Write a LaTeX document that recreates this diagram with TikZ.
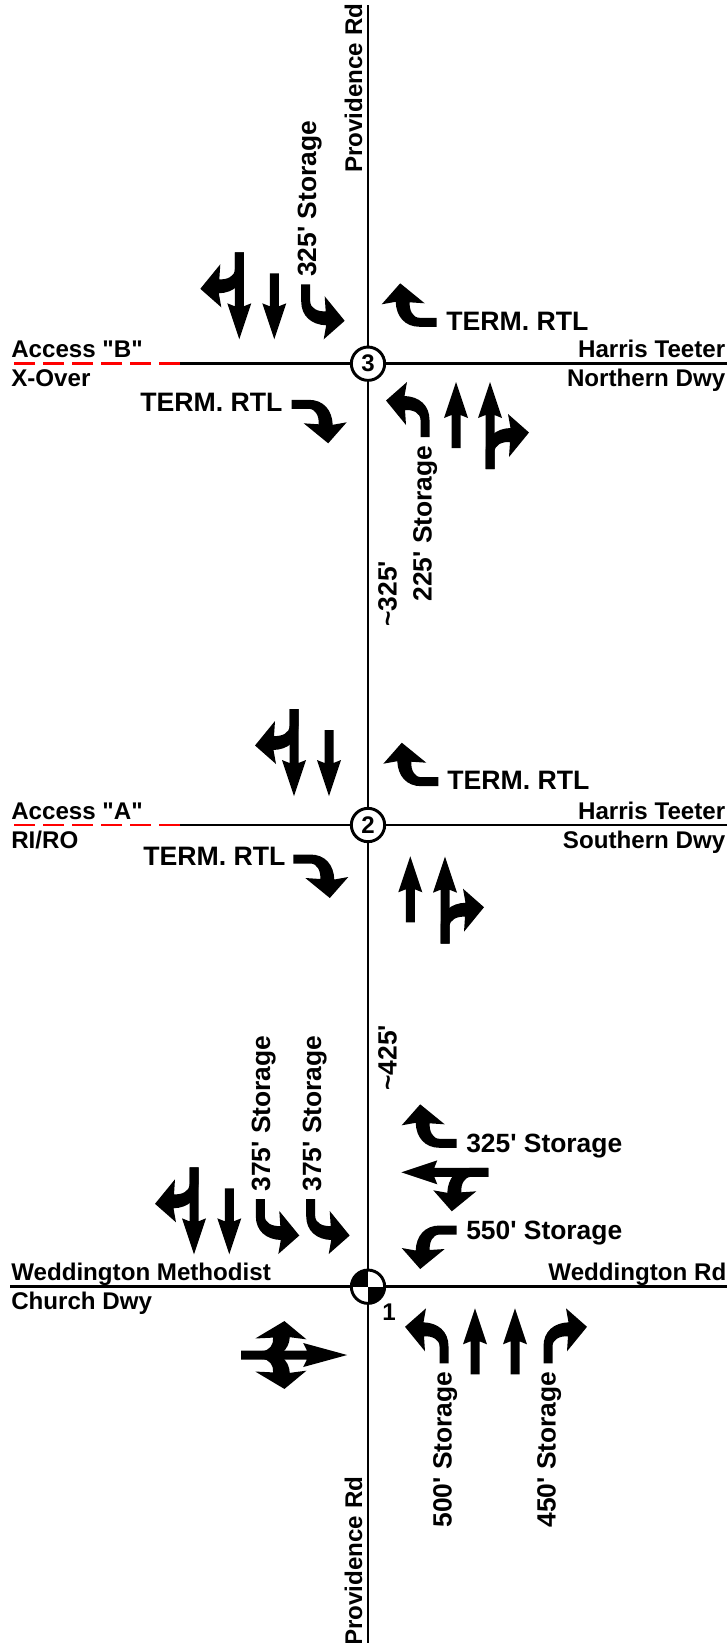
\documentclass[tikz,border=0pt]{standalone}
\usepackage{fontspec}
\setmainfont{Liberation Sans}
\usetikzlibrary{positioning}
\newcommand{\ft}{\textquotesingle}
\newcommand{\dq}{\textquotedbl}
\begin{document}
\begin{tikzpicture}[
  x=0.75pt, y=-0.75pt,
  road/.style={black, line width=2.1pt},
  accessdash/.style={red, line width=2.1pt, dash pattern=on 15.75pt off 6pt},
  junction/.style={circle, draw=black, fill=white, line width=2.2pt, minimum size=25pt, inner sep=0pt,
    font=\bfseries\fontsize{18}{18}\selectfont},
  street/.style={inner sep=0pt, font=\bfseries\fontsize{18.1}{18.1}\selectfont},
  storage/.style={inner sep=0pt, font=\bfseries\fontsize{19.8}{19.8}\selectfont},
  term/.style={inner sep=0pt, font=\bfseries\fontsize{20}{20}\selectfont},
  pics/thruarrow/.style={code={
    \fill (0,-#1) -- (12,{-#1+36}) -- (4.5,{-#1+33}) -- (4.5,0) -- (-4.5,0) -- (-4.5,{-#1+33}) -- (-12,{-#1+36}) -- cycle;
  }},
  pics/turnarrow/.style={code={
    \fill (-4.5,0) -- (-4.5,-17) .. controls (-4.5,-32) and (6,-40.5) .. (20.5,-41) -- (18,-55) -- (39,-36.5)
      -- (19,-12) -- (20,-27) .. controls (12,-27.5) and (4.5,-24) .. (4.5,-17) -- (4.5,0) -- cycle;
  }},
]
\useasboundingbox (0,0) rectangle (728,1643);
% ---- junctions ----
\node[junction] (n3) at (368,363.7) {3};
\node[junction] (n2) at (368,825) {2};
\node[junction, path picture={
    \fill[black] (path picture bounding box.center) rectangle (path picture bounding box.north west);
    \fill[black] (path picture bounding box.center) rectangle (path picture bounding box.south east);
  }] (n1) at (368,1286.7) {};
\coordinate (northEnd) at (368,5);
\coordinate (southEnd) at (368,1643);
\coordinate (accBend) at (10,363.7);
\coordinate (accBsolid) at (180,363.7);
\coordinate (tee3) at (727,363.7);
\coordinate (accAend) at (10,825);
\coordinate (accAsolid) at (180,825);
\coordinate (tee2) at (727,825);
\coordinate (wmc) at (10,1286.7);
\coordinate (wrd) at (727,1286.7);
% ---- roads ----
\draw[road] (northEnd) -- (n3);
\draw[road] (n3) -- (n2);
\draw[road] (n2) -- (n1);
\draw[road] (n1) -- (southEnd);
\draw[road] (accBsolid) -- (n3);
\draw[road] (n3) -- (tee3);
\draw[accessdash] (accBsolid) -- (accBend);
\draw[road] (accAsolid) -- (n2);
\draw[road] (n2) -- (tee2);
\draw[accessdash] (accAsolid) -- (accAend);
\draw[road] (wmc) -- (n1);
\draw[road] (n1) -- (wrd);
% ---- street names ----
\node[street, rotate=90, anchor=base west] (provN) at (362,173) {Providence Rd};
\node[street, rotate=90, anchor=base west] (provS) at (362,1646) {Providence Rd};
\node[street, anchor=base west] (accB) at (11,357.5) {Access \dq B\dq};
\node[street, anchor=base west] (xover) at (11,386.5) {X-Over};
\node[street, anchor=base east] (ht3) at (725.5,357.5) {Harris Teeter};
\node[street, anchor=base east] (ndwy) at (725.5,386.5) {Northern Dwy};
\node[street, anchor=base west] (accA) at (11,819) {Access \dq A\dq};
\node[street, anchor=base west] (riro) at (11,848) {RI/RO};
\node[street, anchor=base east] (ht2) at (725.5,819) {Harris Teeter};
\node[street, anchor=base east] (sdwy) at (725.5,848) {Southern Dwy};
\node[street, anchor=base west] (wmeth) at (11,1280) {Weddington Methodist};
\node[street, anchor=base west] (cdwy) at (11,1309.5) {Church Dwy};
\node[street, anchor=base east] (wrdlab) at (726.5,1280) {Weddington Rd};
\node[street, anchor=base west] (n1lab) at (382,1320) {1};
% ---- spacing and storage ----
\node[storage, rotate=90, anchor=base west] (st3a) at (316,277) {325\ft{} Storage};
\node[storage, rotate=90, anchor=base west] (st3b) at (431.7,601.7) {225\ft{} Storage};
\node[storage, rotate=90, anchor=base west] (gap32) at (396.7,627) {\textasciitilde 325\ft};
\node[storage, rotate=90, anchor=base west] (gap21) at (396.7,1091) {\textasciitilde 425\ft};
\node[storage, rotate=90, anchor=base west] (st1a) at (270,1191.7) {375\ft{} Storage};
\node[storage, rotate=90, anchor=base west] (st1b) at (321,1191.7) {375\ft{} Storage};
\node[storage, anchor=base west] (st1c) at (466,1152) {325\ft{} Storage};
\node[storage, anchor=base west] (st1d) at (466,1239) {550\ft{} Storage};
\node[storage, rotate=90, anchor=base west] (st1e) at (451.7,1527.7) {500\ft{} Storage};
\node[storage, rotate=90, anchor=base west] (st1f) at (555.7,1527.7) {450\ft{} Storage};
\node[term, anchor=base west] (rtl3w) at (140,411.7) {TERM. RTL};
\node[term, anchor=base west] (rtl3e) at (446,330.7) {TERM. RTL};
\node[term, anchor=base west] (rtl2w) at (143,865) {TERM. RTL};
\node[term, anchor=base west] (rtl2e) at (447,789) {TERM. RTL};
% ---- junction 3 lanes ----
\pic[rotate=180] at (239.3,252.3) {thruarrow=87};
\pic[rotate=180] at (239.3,252.3) {turnarrow};
\pic[rotate=180] at (274.3,273.3) {thruarrow=66};
\pic[rotate=180, xscale=-1] at (305.7,284.3) {turnarrow};
\pic[rotate=-90] at (291.7,404.3) {turnarrow};
\pic[rotate=90] at (436.7,322.3) {turnarrow};
\pic[xscale=-1] at (425,437) {turnarrow};
\pic at (456,448) {thruarrow=66};
\pic at (490,469) {thruarrow=87};
\pic at (490,469) {turnarrow};
% ---- junction 2 lanes ----
\pic[rotate=180] at (294,709) {thruarrow=87};
\pic[rotate=180] at (294,709) {turnarrow};
\pic[rotate=180] at (329,730) {thruarrow=66};
\pic[rotate=-90] at (293.3,859) {turnarrow};
\pic[rotate=90] at (438.3,781.7) {turnarrow};
\pic at (410.3,922.3) {thruarrow=66};
\pic at (445,943.7) {thruarrow=87};
\pic at (445,943.7) {turnarrow};
% ---- junction 1 lanes ----
\pic[rotate=180] at (194,1167.3) {thruarrow=87};
\pic[rotate=180] at (194,1167.3) {turnarrow};
\pic[rotate=180] at (229.3,1188.3) {thruarrow=66};
\pic[rotate=180, xscale=-1] at (260.3,1199) {turnarrow};
\pic[rotate=180, xscale=-1] at (310.7,1199) {turnarrow};
\pic[rotate=-90, yscale=1.22] at (241,1355) {thruarrow=87};
\pic[rotate=-90, xscale=.87, yscale=1.19] at (241,1355) {turnarrow};
\pic[rotate=-90, xscale=-.87, yscale=1.19] at (241,1355) {turnarrow};
\pic[rotate=90] at (456.7,1143.3) {turnarrow};
\pic[rotate=90] at (488.3,1172.3) {thruarrow=87};
\pic[rotate=90, xscale=-1] at (488.3,1172.3) {turnarrow};
\pic[rotate=90, xscale=-1] at (456.7,1230) {turnarrow};
\pic[xscale=-1] at (444,1363.3) {turnarrow};
\pic at (475,1374.3) {thruarrow=66};
\pic at (515,1374.3) {thruarrow=66};
\pic at (548,1363.3) {turnarrow};
\end{tikzpicture}
\end{document}
